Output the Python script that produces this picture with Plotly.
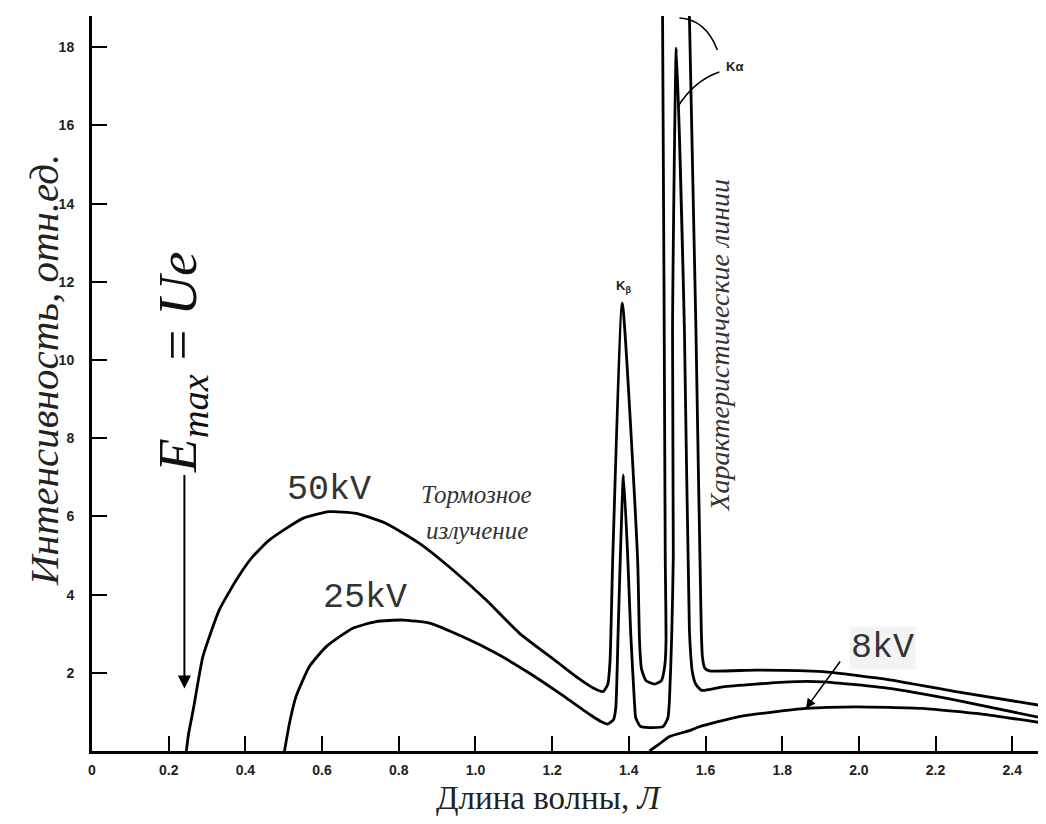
import plotly.graph_objects as go

# ---- data (wavelength in Å, intensity in rel. units) ----
x_50kv = [0.246, 0.252, 0.260, 0.267, 0.289, 0.332, 0.376, 0.419, 0.463, 0.550, 0.619, 0.689,
          0.767, 0.854, 0.941, 1.028, 1.115, 1.210, 1.270, 1.306, 1.333, 1.345, 1.351, 1.358,
          1.383, 1.423, 1.428, 1.433, 1.445, 1.467, 1.485, 1.494, 1.497, 1.495, 1.488, 1.486,
          1.523, 1.557, 1.558, 1.575, 1.589, 1.592, 1.598, 1.610, 1.732, 1.906, 2.080, 2.253, 2.490]
y_50kv = [0.0, 0.45, 0.85, 1.22, 2.41, 3.61, 4.37, 4.97, 5.40, 5.95, 6.12, 6.08,
          5.82, 5.31, 4.63, 3.86, 3.01, 2.30, 1.85, 1.62, 1.52, 1.70, 2.30, 4.90,
          11.46, 4.88, 2.80, 2.10, 1.80, 1.71, 1.80, 2.20, 2.80, 5.00, 18.8, 19.5,
          24.0, 19.5, 18.8, 10.8, 3.09, 2.40, 2.12, 2.05, 2.07, 2.03, 1.82, 1.52, 1.14]

x_25kv = [0.502, 0.515, 0.532, 0.567, 0.611, 0.680, 0.741, 0.810, 0.880, 0.967, 1.054, 1.141,
          1.219, 1.245, 1.300, 1.330, 1.345, 1.360, 1.366, 1.372, 1.378, 1.386, 1.397, 1.405,
          1.415, 1.418, 1.430, 1.453, 1.490, 1.502, 1.506, 1.512, 1.516, 1.514, 1.524, 1.545,
          1.558, 1.566, 1.575, 1.590, 1.645, 1.819, 1.906, 2.080, 2.253, 2.490]
y_25kv = [0.0, 0.71, 1.39, 2.16, 2.67, 3.14, 3.31, 3.35, 3.27, 2.92, 2.50, 1.99,
          1.48, 1.30, 0.92, 0.74, 0.69, 0.80, 1.10, 3.00, 5.00, 7.06, 5.00, 3.00,
          1.20, 0.85, 0.63, 0.60, 0.63, 0.85, 1.30, 3.00, 5.00, 10.77, 17.98, 10.77,
          3.09, 2.00, 1.70, 1.55, 1.64, 1.77, 1.77, 1.60, 1.30, 0.82]

x_8kv = [1.454, 1.480, 1.506, 1.558, 1.584, 1.688, 1.862, 1.993, 2.166, 2.340, 2.490]
y_8kv = [0.0, 0.18, 0.37, 0.52, 0.62, 0.88, 1.09, 1.13, 1.09, 0.92, 0.70]

x_tickvals = [0, 0.2, 0.4, 0.6, 0.8, 1.0, 1.2, 1.4, 1.6, 1.8, 2.0, 2.2, 2.4]
x_ticktext = ["0", "0.2", "0.4", "0.6", "0.8", "1.0", "1.2", "1.4", "1.6", "1.8", "2.0", "2.2", "2.4"]
y_tickvals = [2, 4, 6, 8, 10, 12, 14, 16, 18]
y_ticktext = ["2", "4", "6", "8", "10", "12", "14", "16", "18"]

series = [("50kV", x_50kv, y_50kv), ("25kV", x_25kv, y_25kv), ("8kV", x_8kv, y_8kv)]

fig = go.Figure()
for name, xs, ys in series:
    fig.add_trace(go.Scatter(x=xs, y=ys, mode="lines", name=name,
                             line=dict(color="black", width=2.8, shape="spline", smoothing=0.5),
                             showlegend=False, hoverinfo="skip"))

SERIF = "Liberation Serif, Times New Roman, serif"
MONO = "Liberation Mono, Courier New, monospace"
SANS = "Liberation Sans, Arial, sans-serif"

# plot area on the page: x 92..1046, y 16..751 (page has an 8px body margin)
PW, PH = 954, 735

ann = []
# curve labels
ann.append(dict(x=0.617, y=6.68, text="50kV", showarrow=False,
                font=dict(family=MONO, size=35, color="#333")))
ann.append(dict(x=0.713, y=3.91, text="25kV", showarrow=False,
                font=dict(family=MONO, size=35, color="#333")))
ann.append(dict(x=2.061, y=2.63, text="8kV", showarrow=False, bgcolor="#f3f3f3",
                font=dict(family=MONO, size=35, color="#333")))
ann.append(dict(x=1.862, y=1.09, ax=1.954, ay=2.33, axref="x", ayref="y", text="",
                showarrow=True, arrowhead=2, arrowsize=1.2, arrowwidth=1.6, arrowcolor="black"))
# bremsstrahlung text
ann.append(dict(x=1.003, y=6.55, text="Тормозное", showarrow=False,
                font=dict(family=SERIF, size=25, color="#333", style="italic")))
ann.append(dict(x=1.005, y=5.65, text="излучение", showarrow=False,
                font=dict(family=SERIF, size=25, color="#333", style="italic")))
# characteristic lines text
ann.append(dict(x=1.636, y=10.38, text="Характеристические линии", showarrow=False,
                textangle=-90, font=dict(family=SERIF, size=28, color="#333", style="italic")))
# K labels
ann.append(dict(x=1.386, y=11.87, text="K<sub>β</sub>", showarrow=False,
                font=dict(family=SANS, size=13, color="#222", weight="bold")))
ann.append(dict(x=1.675, y=17.52, text="Kα", showarrow=False,
                font=dict(family=SANS, size=13, color="#222", weight="bold")))
# Emax = Ue
ann.append(dict(x=0.232, y=9.95, text="<i>E<sub>max</sub></i> = <i>Ue</i>", showarrow=False,
                textangle=-90, font=dict(family=SERIF, size=55, color="#111")))
ann.append(dict(x=0.241, y=1.6, ax=0.241, ay=7.1, axref="x", ayref="y", text="",
                showarrow=True, arrowhead=2, arrowsize=1.3, arrowwidth=2, arrowcolor="black"))
# axis titles
ann.append(dict(xref="paper", yref="paper", x=(44 - 92) / PW, y=(751 - 370) / PH,
                xanchor="center", yanchor="middle",
                text="Интенсивность, отн.ед.", showarrow=False, textangle=-90,
                font=dict(family=SERIF, size=41, color="#222", style="italic")))
ann.append(dict(xref="paper", yref="paper", x=(548 - 92) / PW, y=(751 - 798) / PH,
                xanchor="center", yanchor="middle",
                text="Длина волны, <i>Л</i>", showarrow=False,
                font=dict(family=SERIF, size=33, color="#222")))

shapes = [
    dict(type="path", xref="x", yref="y", path="M 1.532,18.75 Q 1.600,18.72 1.631,17.93",
         line=dict(color="black", width=1.6)),
    dict(type="path", xref="x", yref="y", path="M 1.636,17.37 Q 1.570,17.15 1.527,16.47",
         line=dict(color="black", width=1.6)),
]

fig.update_layout(
    width=1046, height=824,
    margin=dict(l=84, r=8, t=8, b=81),
    paper_bgcolor="white", plot_bgcolor="white",
    annotations=ann, shapes=shapes,
    xaxis=dict(range=[0, 2.488], showgrid=False, zeroline=False, showline=True,
               linecolor="black", linewidth=3, ticks="inside", ticklen=15, tickwidth=2,
               tickcolor="black", tickvals=x_tickvals, ticktext=x_ticktext,
               ticklabelstandoff=4,
               tickfont=dict(family=SANS, size=14, color="#222", weight="bold")),
    yaxis=dict(range=[0, 18.8], showgrid=False, zeroline=False, showline=True,
               linecolor="black", linewidth=3, ticks="inside", ticklen=15, tickwidth=2,
               tickcolor="black", tickvals=y_tickvals, ticktext=y_ticktext,
               ticklabelstandoff=12,
               tickfont=dict(family=SANS, size=14, color="#222", weight="bold")),
)

fig.write_html("out.html")
